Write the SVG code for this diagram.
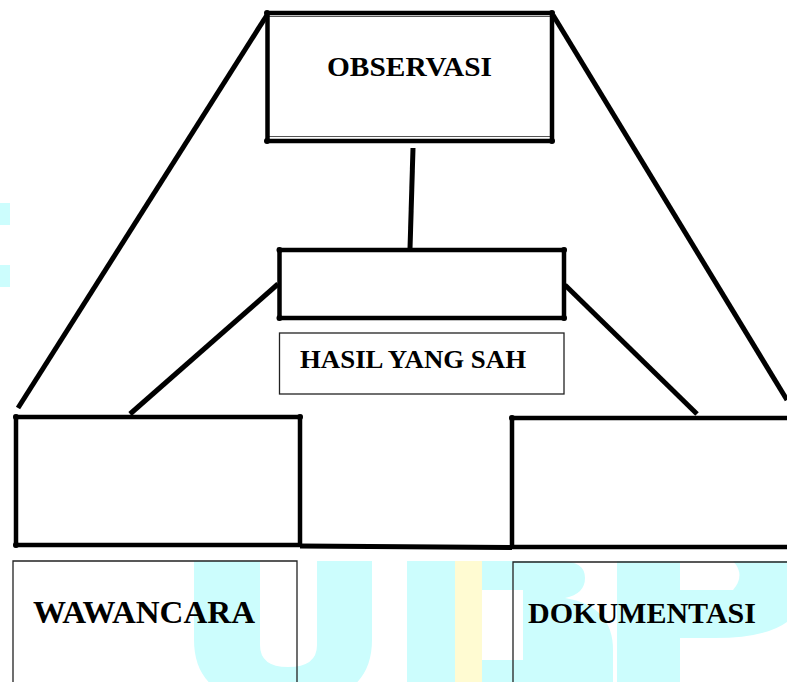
<svg xmlns="http://www.w3.org/2000/svg" width="787" height="682" viewBox="0 0 787 682">
<style>
.wm{fill:#ccfdfd;stroke:none}
.thick{fill:none;stroke:#000;stroke-width:4.5;stroke-linecap:butt}
.thin{fill:none;stroke:#222;stroke-width:1.3}
.conn{stroke:#000;stroke-width:5;stroke-linecap:butt;fill:none}
.dot{fill:#000}
.lbl{font-family:"Liberation Serif","Times New Roman",serif;font-weight:bold;fill:#000}
</style>
<defs>
<clipPath id="wmclip"><rect x="0" y="561" width="787" height="121"/></clipPath>
</defs>
<rect x="0" y="0" width="787" height="682" fill="#fff"/>
<g id="watermark">
<rect class="wm" x="0" y="203" width="10" height="22"/>
<rect class="wm" x="0" y="265" width="10" height="22"/>
<g clip-path="url(#wmclip)">
<path class="wm" d="M194,561 V640 Q194,705 283,705 Q372,705 372,640 V561 H317 V645 Q317,667 288,667 Q260,667 260,645 V561 Z"/>
<path class="wm" d="M407,561 H560 Q585,561 585,578 Q585,594 565,598 Q613,606 613,650 V682 H407 Z"/>
<path fill="#fff" d="M482,590 H523 V660 H482 Z"/>
<rect x="455" y="561" width="27" height="121" fill="#fffbd2"/>
<rect class="wm" x="617" y="561" width="63" height="121"/>
<path class="wm" d="M680,561 H787 V622 Q765,638 715,638 H680 Z"/>
<path fill="#fff" d="M680,561 H733 Q746,575 733,590 H680 Z"/>
</g>
</g>
<g id="connectors">
<line class="conn" x1="413" y1="148" x2="410" y2="249"/>
<line class="conn" x1="267" y1="15" x2="18" y2="408"/>
<line class="conn" x1="553" y1="15" x2="787" y2="400"/>
<line class="conn" x1="278" y1="284" x2="130" y2="414"/>
<line class="conn" x1="565" y1="285" x2="697" y2="414"/>
<line class="conn" x1="300" y1="546" x2="512" y2="547.5"/>
</g>
<g id="observasi">
<line class="thick" x1="267" y1="13" x2="552" y2="13"/>
<line stroke="#555" stroke-width="1" x1="267" y1="16.5" x2="552" y2="16.5"/>
<line stroke="#555" stroke-width="1" x1="267" y1="136.5" x2="552" y2="136.5"/>
<line class="thick" x1="267" y1="141" x2="552" y2="141"/>
<line class="thick" x1="267.5" y1="13" x2="267.5" y2="141"/>
<line class="thick" x1="552" y1="13" x2="552" y2="141"/>
<circle class="dot" cx="267" cy="13" r="3"/><circle class="dot" cx="552" cy="13" r="3"/>
<circle class="dot" cx="267" cy="141" r="3"/><circle class="dot" cx="552" cy="141" r="3"/>
<text class="lbl" x="327" y="76" font-size="28" textLength="165" lengthAdjust="spacingAndGlyphs">OBSERVASI</text>
</g>
<g id="hasil-box">
<rect class="thick" x="279.5" y="250" width="284.5" height="68"/>
<circle class="dot" cx="279.5" cy="250" r="3"/><circle class="dot" cx="564" cy="250" r="3"/>
<circle class="dot" cx="279.5" cy="318" r="3"/><circle class="dot" cx="564" cy="318" r="3"/>
</g>
<g id="hasil-label">
<rect class="thin" x="279.5" y="333" width="284.5" height="61"/>
<text class="lbl" x="300" y="368" font-size="25" textLength="226" lengthAdjust="spacingAndGlyphs">HASIL YANG SAH</text>
</g>
<g id="wawancara-box">
<rect class="thick" x="16" y="417" width="284" height="128"/>
<circle class="dot" cx="16" cy="417" r="3"/><circle class="dot" cx="300" cy="417" r="3"/>
<circle class="dot" cx="16" cy="545" r="3"/>
</g>
<g id="dokumentasi-box">
<path class="thick" d="M790,418 H512 V547 H790"/>
<circle class="dot" cx="512" cy="418" r="3"/>
</g>
<g id="wawancara">
<path class="thin" d="M13,690 V561 H297 V690"/>
<text class="lbl" x="33" y="623" font-size="31" textLength="222" lengthAdjust="spacingAndGlyphs">WAWANCARA</text>
</g>
<g id="dokumentasi">
<path class="thin" d="M513,690 V562 H790"/>
<text class="lbl" x="528" y="623" font-size="28.5" textLength="228" lengthAdjust="spacingAndGlyphs">DOKUMENTASI</text>
</g>
</svg>
